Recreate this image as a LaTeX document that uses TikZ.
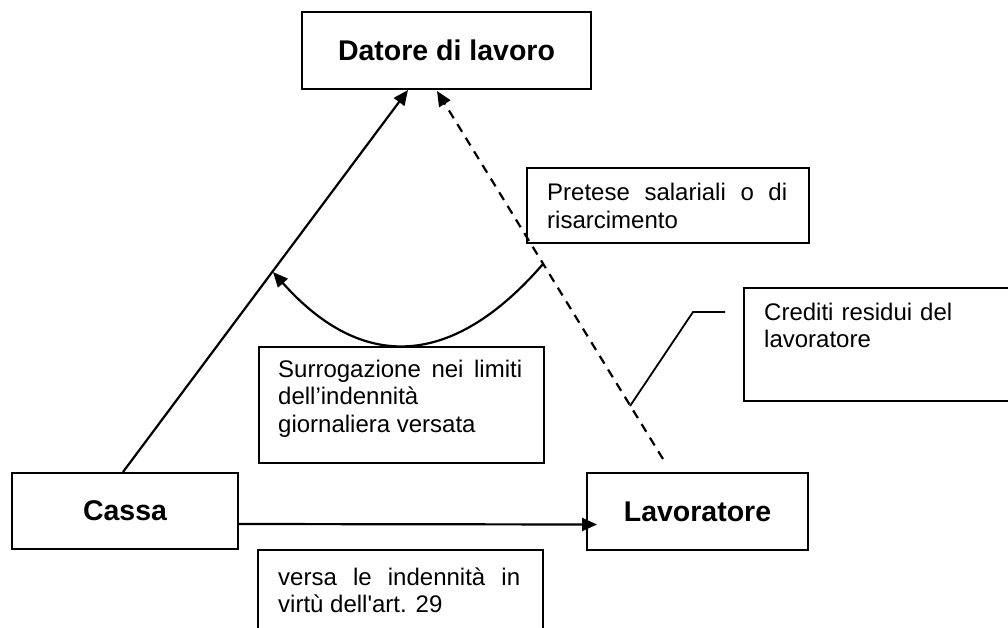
\documentclass[tikz,border=0pt]{standalone}
\usepackage{fontspec}
\setmainfont{Liberation Sans}
\usetikzlibrary{arrows.meta,calc}
\newcommand\myNoHyph{\hyphenchar\font=-1\relax\hyphenpenalty=10000\relax\exhyphenpenalty=10000\relax\tolerance=10000\relax}
\tikzset{
  boxframe/.style={draw=black, line width=2pt, fill=white, inner sep=0pt},
  party/.style={boxframe, font=\fontsize{28.5}{34}\selectfont\bfseries},
  txt/.style={inner sep=0pt, anchor=base west,
    font=\fontsize{24}{27.5}\selectfont},
  conn/.style={line width=2.2pt, -{Triangle[length=15pt,width=13pt]}},
  dconn/.style={conn, dash pattern=on 9pt off 7pt},
  plain/.style={line width=1.8pt}
}
\begin{document}
\begin{tikzpicture}[x=1pt,y=-1pt]
\useasboundingbox (0,0) rectangle (1008,628);
\fill[white] (0,0) rectangle (1008,628);

% main parties
\node[party, minimum width=289pt, minimum height=77pt] (datore) at (446.5,50.5) {Datore di lavoro};
\node[party, minimum width=226pt, minimum height=76pt] (cassa) at (125,511) {Cassa};
\node[party, minimum width=221pt, minimum height=77pt] (lav) at (697.5,511.5) {Lavoratore};

% text boxes
\node[boxframe, anchor=north west, minimum width=285pt, minimum height=116pt] (surrbox) at (258,346) {};
\node[txt, text width=244pt, align=justify] (surr) at (278,377) {\myNoHyph Surrogazione nei limiti\linebreak dell’indennità\\giornaliera versata};

\node[boxframe, anchor=north west, minimum width=282pt, minimum height=75pt] (pretbox) at (526,167) {};
\node[txt, text width=240pt, align=justify] (pret) at (547,201) {\myNoHyph Pretese salariali o di\linebreak risarcimento};

\node[boxframe, anchor=north west, minimum width=285pt, minimum height=113pt] (credbox) at (743,287) {};
\node[txt, text width=244pt, align=left] (cred) at (764,320) {\myNoHyph Crediti residui del\\lavoratore};

\node[boxframe, anchor=north west, minimum width=285pt, minimum height=110pt] (versbox) at (257,549) {};
\node[txt, text width=242pt, align=justify] (vers) at (278,585) {\myNoHyph versa le indennità in\linebreak virtù dell\textquotesingle art. 29};

% connectors
\draw[conn] ([xshift=-2pt]cassa.north) -- ([xshift=-38.5pt]datore.south);
\draw[dconn] ([xshift=-34.5pt,yshift=13pt]lav.north) -- ([xshift=-9.5pt,yshift=-1pt]datore.south);
\draw[conn] ([xshift=-2pt,yshift=-13pt]cassa.east) -- ([xshift=11pt,yshift=-13pt]lav.west);

% surrogation arc
\coordinate (arcR) at (543,264);
\coordinate (arcL) at (273,272);
\draw[conn] (arcR) .. controls (452,369) and (362,372) .. (arcL);

% callout for residual credits
\coordinate (co1) at (630,406);
\coordinate (co2) at (693,312);
\coordinate (co3) at (725,312);
\draw[plain] (co1) -- (co2) -- (co3);
\end{tikzpicture}
\end{document}
